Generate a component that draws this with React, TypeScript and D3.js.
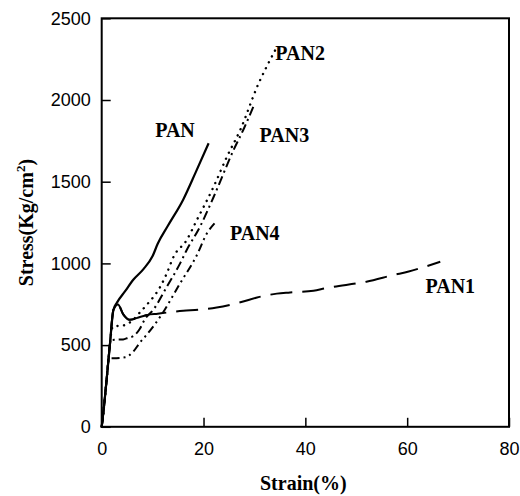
import React, { useEffect, useRef } from 'react';
import * as d3 from 'd3';

// strain (%) and stress (Kg/cm2) pairs
const panData: [number, number][] = [
  [0, 0], [0.3, 80], [1, 300], [1.6, 500], [2.3, 715], [3, 760], [4.6, 830], [6.2, 900],
  [8.2, 965], [10, 1045], [11, 1120], [13, 1230], [16, 1390], [18.5, 1560], [21, 1735],
];
const pan1Data: [number, number][] = [
  [0, 0], [0.3, 80], [1, 300], [1.6, 500], [2.3, 715], [3.2, 748], [4.2, 690], [5.5, 655],
  [7.5, 672], [9, 685], [11, 692], [13, 700], [16, 710], [19, 716], [22.6, 730], [27, 760],
  [31, 795], [34.4, 815], [37, 822], [41.6, 833], [44, 848], [50, 878], [52, 888],
  [57.3, 929], [60.3, 950], [63, 975], [66.5, 1010],
];
const pan2Data: [number, number][] = [
  [0, 0], [0.3, 80], [1, 300], [1.6, 500], [2, 600], [2.3, 615], [4.2, 620], [6, 650],
  [7.5, 700], [8.8, 745], [11.5, 857], [12.8, 940], [14.1, 1040], [16.7, 1143], [18.7, 1266],
  [22, 1470], [24.6, 1653], [27.2, 1816], [30.8, 2100], [32.4, 2204], [34.1, 2306],
];
const pan3Data: [number, number][] = [
  [0, 0], [0.3, 80], [1, 300], [1.6, 500], [1.8, 530], [2.6, 533], [4.2, 535], [5.2, 545],
  [6.2, 555], [7.5, 600], [8.5, 660], [10.1, 715], [12.8, 857], [15.4, 1000], [16.7, 1082],
  [19.3, 1224], [22, 1408], [25.9, 1694], [28, 1830], [29.8, 1960],
];
const pan4Data: [number, number][] = [
  [0, 0], [0.3, 80], [1, 300], [1.35, 420], [2.3, 420], [4.6, 425], [6.2, 460], [7.5, 515],
  [8.8, 562], [11.5, 674], [15.4, 878], [18.7, 1051], [20.6, 1180], [22.3, 1250],
];

const xTicks = [0, 20, 40, 60, 80];
const yTicks = [0, 500, 1000, 1500, 2000, 2500];

// curve labels: name, strain, stress at the text's start/baseline
const labelNames = ['PAN', 'PAN1', 'PAN2', 'PAN3', 'PAN4'];
const labelX = [10.5, 63.6, 34.1, 31, 25.2];
const labelY = [1775, 820, 2245, 1740, 1145];

const App = () => {
  const ref = useRef<SVGSVGElement>(null);

  useEffect(() => {
    const svg = d3.select(ref.current);
    svg.selectAll('*').remove();

    const left = 101.7;
    const right = 509;
    const top = 18.3;
    const bottom = 426.8;

    const x = d3.scaleLinear().domain([0, 80]).range([left, right]);
    const y = d3.scaleLinear().domain([0, 2500]).range([bottom, top]);

    // axes with ticks pointing inward
    const xAxis = d3.axisBottom(x).tickValues(xTicks).tickSize(-9).tickPadding(15).tickFormat(d3.format('d'));
    const yAxis = d3.axisLeft(y).tickValues(yTicks).tickSize(-9).tickPadding(11).tickFormat(d3.format('d'));

    const gx = svg.append('g').attr('transform', `translate(0, ${bottom})`).call(xAxis);
    const gy = svg.append('g').attr('transform', `translate(${left}, 0)`).call(yAxis);
    [gx, gy].forEach((g) => {
      g.select('.domain').remove();
      g.selectAll('line').attr('stroke', '#000').attr('stroke-width', 1.5);
      g.selectAll('text')
        .attr('fill', '#000')
        .style('font-family', '"Liberation Sans", Arial, sans-serif')
        .style('font-size', '18px');
    });

    // frame
    svg
      .append('rect')
      .attr('x', left)
      .attr('y', top)
      .attr('width', right - left)
      .attr('height', bottom - top)
      .attr('fill', 'none')
      .attr('stroke', '#000')
      .attr('stroke-width', 2);

    const line = d3
      .line<[number, number]>()
      .x((d) => x(d[0]))
      .y((d) => y(d[1]))
      .curve(d3.curveMonotoneX);

    const drawCurve = (data: [number, number][], dash: string | null, width: number) => {
      const p = svg
        .append('path')
        .attr('d', line(data))
        .attr('fill', 'none')
        .attr('stroke', '#000')
        .attr('stroke-width', width)
        .attr('stroke-linecap', dash === '0.1,6.5' ? 'round' : 'butt');
      if (dash) p.attr('stroke-dasharray', dash);
    };

    drawCurve(pan4Data, '8,4,2,4,2,4', 2);
    drawCurve(pan3Data, '9,4,2,4', 2);
    drawCurve(pan2Data, '0.1,6.5', 2.4);
    drawCurve(pan1Data, '22,10', 2);
    // the early part of PAN1 reads as solid
    drawCurve(pan1Data.filter((d) => d[0] <= 9), null, 2);
    drawCurve(panData, null, 2.2);

    // curve labels
    labelNames.forEach((name, i) => {
      svg
        .append('text')
        .attr('x', x(labelX[i]))
        .attr('y', y(labelY[i]))
        .text(name)
        .style('font-family', '"Liberation Serif", "Times New Roman", serif')
        .style('font-weight', 'bold')
        .style('font-size', '20px');
    });

    // axis titles
    svg
      .append('text')
      .attr('x', (left + right) / 2 - 2)
      .attr('y', 490)
      .attr('text-anchor', 'middle')
      .text('Strain(%)')
      .style('font-family', '"Liberation Serif", "Times New Roman", serif')
      .style('font-weight', 'bold')
      .style('font-size', '20px');

    const yt = svg
      .append('text')
      .attr('transform', `translate(33, ${(top + bottom) / 2}) rotate(-90)`)
      .attr('text-anchor', 'middle')
      .style('font-family', '"Liberation Serif", "Times New Roman", serif')
      .style('font-weight', 'bold')
      .style('font-size', '20px');
    yt.append('tspan').text('Stress(Kg/cm');
    yt.append('tspan').attr('dy', -8).style('font-size', '13px').text('2');
    yt.append('tspan').attr('dy', 8).text(')');
  }, []);

  return (
    <svg
      ref={ref}
      width={520}
      height={496}
      style={{ position: 'absolute', left: 0, top: 0, background: '#fff' }}
    />
  );
};

export default App;
